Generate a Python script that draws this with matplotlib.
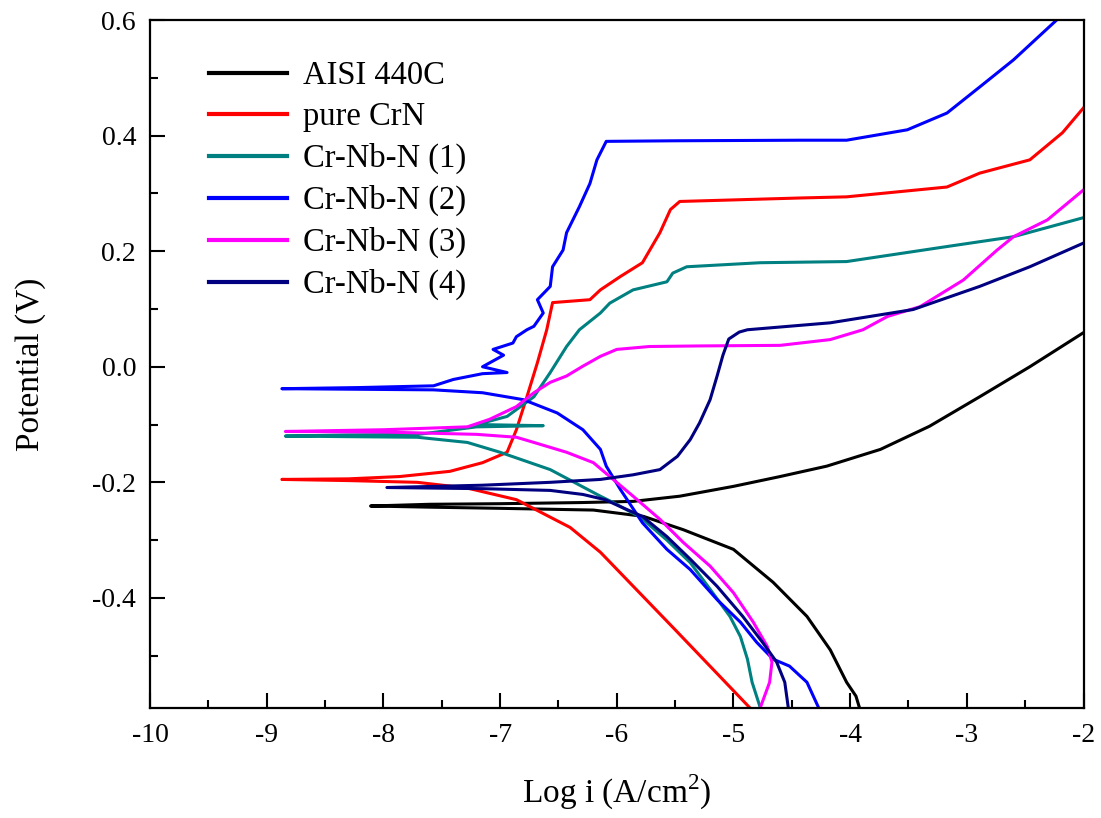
import matplotlib
matplotlib.use("Agg")
import matplotlib.pyplot as plt
from matplotlib.ticker import MultipleLocator

plt.rcParams['font.family'] = ['Liberation Serif', 'DejaVu Serif']
plt.rcParams['axes.unicode_minus'] = False
plt.rcParams['mathtext.fontset'] = 'custom'
plt.rcParams['mathtext.rm'] = 'Liberation Serif'

labels = ["AISI 440C", "pure CrN", "Cr-Nb-N (1)", "Cr-Nb-N (2)", "Cr-Nb-N (3)", "Cr-Nb-N (4)"]
colors = ["#000000", "#FF0000", "#008080", "#0000FF", "#FF00FF", "#000080"]

# AISI 440C
x_aisi = [-3.92, -3.95, -4.03, -4.17, -4.37, -4.66, -5.0, -5.43, -5.77, -6.2, -7.0, -7.6, -8.11,
          -7.6, -7.0, -6.3, -5.86, -5.46, -5.0, -4.6, -4.2, -3.74, -3.32, -2.89, -2.46, -2.0]
y_aisi = [-0.59, -0.57, -0.546, -0.49, -0.432, -0.373, -0.316, -0.282, -0.259, -0.248, -0.245, -0.243, -0.241,
          -0.238, -0.237, -0.235, -0.233, -0.224, -0.207, -0.19, -0.172, -0.143, -0.103, -0.052, 0.0, 0.059]

# pure CrN
x_crn = [-4.86, -5.5, -6.14, -6.4, -6.86, -7.28, -7.71, -8.3, -8.87,
         -8.3, -7.86, -7.43, -7.15, -6.94, -6.86, -6.77, -6.68, -6.6, -6.55, -6.23, -6.14,
         -5.97, -5.78, -5.63, -5.54, -5.46, -4.43, -4.03, -3.17, -2.89, -2.46, -2.18, -2.0]
y_crn = [-0.59, -0.455, -0.321, -0.278, -0.23, -0.21, -0.2, -0.197, -0.195,
         -0.194, -0.19, -0.181, -0.166, -0.148, -0.109, -0.052, 0.007, 0.064, 0.111, 0.116, 0.133,
         0.156, 0.18, 0.232, 0.272, 0.286, 0.292, 0.294, 0.311, 0.335, 0.358, 0.405, 0.448]

# Cr-Nb-N (1)
x_cn1 = [-4.77, -4.84, -4.88, -4.94, -5.03, -5.2, -5.37, -5.57, -5.8, -6.03, -6.14, -6.57, -7.0, -7.28, -7.71, -8.3, -8.84,
         -8.3, -7.7, -7.2, -6.63, -7.2, -6.94, -6.71, -6.57, -6.43, -6.32, -6.14, -6.06, -5.86, -5.57, -5.52, -5.4,
         -4.77, -4.03, -3.17, -2.6, -2.0]
y_cn1 = [-0.59, -0.546, -0.506, -0.467, -0.432, -0.385, -0.339, -0.3, -0.26, -0.235, -0.224, -0.178, -0.148, -0.131, -0.122, -0.121, -0.12,
         -0.118, -0.117, -0.104, -0.102, -0.1, -0.086, -0.052, -0.01, 0.035, 0.064, 0.093, 0.11, 0.133, 0.147, 0.162, 0.173,
         0.18, 0.182, 0.208, 0.225, 0.258]

# Cr-Nb-N (2)
x_cn2 = [-4.27, -4.37, -4.52, -4.66, -4.8, -4.94, -5.14, -5.37, -5.57, -5.78, -5.97, -6.09, -6.14, -6.29, -6.51, -6.8,
         -7.15, -7.57, -8.2, -8.87,
         -8.2, -7.57, -7.4, -7.15, -6.94, -7.15, -6.97, -7.06, -6.89, -6.86, -6.77, -6.71, -6.63, -6.68, -6.57, -6.55,
         -6.46, -6.43, -6.32, -6.23, -6.17, -6.09, -5.5, -4.43, -4.03, -3.51, -3.17, -2.89, -2.6, -2.23, -2.0]
y_cn2 = [-0.59, -0.546, -0.518, -0.506, -0.477, -0.442, -0.403, -0.351, -0.316, -0.27, -0.212, -0.172, -0.143, -0.109, -0.08, -0.057,
         -0.045, -0.04, -0.039, -0.038,
         -0.036, -0.033, -0.022, -0.012, -0.01, 0.0, 0.02, 0.03, 0.041, 0.052, 0.064, 0.07, 0.093, 0.116, 0.139, 0.173,
         0.202, 0.232, 0.277, 0.317, 0.358, 0.39, 0.391, 0.392, 0.392, 0.41, 0.439, 0.484, 0.531, 0.6, 0.64]

# Cr-Nb-N (3)
x_cn3 = [-4.77, -4.69, -4.67, -4.71, -4.83, -5.0, -5.2, -5.43, -5.63, -5.86, -6.06, -6.2, -6.43, -6.71, -6.86, -7.2, -8.0, -8.84,
         -8.0, -7.28, -7.09, -6.86, -6.71, -6.57, -6.43, -6.29, -6.14, -6.0, -5.72, -5.29, -4.6, -4.17, -3.89, -3.68,
         -3.4, -3.03, -2.74, -2.6, -2.31, -2.0]
y_cn3 = [-0.59, -0.546, -0.511, -0.484, -0.442, -0.391, -0.345, -0.304, -0.264, -0.224, -0.19, -0.166, -0.148, -0.131, -0.122, -0.117, -0.113, -0.112,
         -0.109, -0.104, -0.091, -0.069, -0.045, -0.027, -0.016, 0.001, 0.018, 0.03, 0.035, 0.036, 0.037, 0.047, 0.064, 0.087,
         0.104, 0.15, 0.202, 0.225, 0.254, 0.306]

# Cr-Nb-N (4)
x_cn4 = [-4.53, -4.56, -4.63, -4.75, -4.92, -5.14, -5.37, -5.57, -5.78, -5.97, -6.1, -6.29, -6.57, -7.15, -7.97,
         -7.15, -6.57, -6.14, -5.86, -5.63, -5.48, -5.37, -5.29, -5.2, -5.14, -5.09, -5.04, -4.95, -4.88, -4.17,
         -3.46, -2.89, -2.46, -2.0]
y_cn4 = [-0.59, -0.546, -0.511, -0.477, -0.432, -0.38, -0.333, -0.294, -0.259, -0.242, -0.23, -0.221, -0.214, -0.211, -0.209,
         -0.205, -0.2, -0.195, -0.187, -0.178, -0.155, -0.126, -0.097, -0.057, -0.016, 0.02, 0.048, 0.06, 0.064, 0.076,
         0.099, 0.139, 0.173, 0.214]

series_x = [x_aisi, x_crn, x_cn1, x_cn2, x_cn3, x_cn4]
series_y = [y_aisi, y_crn, y_cn1, y_cn2, y_cn3, y_cn4]

fig = plt.figure(figsize=(11.01, 8.18), dpi=100)
ax = fig.add_axes([150/1101, 1 - 707.7/818, 933.5/1101, 687.7/818])

for xs, ys, c, lab in zip(series_x, series_y, colors, labels):
    ax.plot(xs, ys, color=c, lw=2.2, label=lab, solid_joinstyle='round')

ax.set_xlim(-10, -2)
ax.set_ylim(-0.59, 0.6)
ax.xaxis.set_minor_locator(MultipleLocator(0.5))
ax.yaxis.set_minor_locator(MultipleLocator(0.1))
ax.set_yticks([-0.4, -0.2, 0.0, 0.2, 0.4, 0.6])
ax.set_yticklabels(["-0.4", "-0.2", "0.0", "0.2", "0.4", "0.6"])
ax.set_xticks(list(range(-10, -1)))
ax.set_xticklabels([str(v) for v in range(-10, -1)])

ax.tick_params(which='both', direction='in', top=False, right=False, width=1.5, labelsize=20)
ax.tick_params(which='major', length=11)
ax.tick_params(which='minor', length=6)
ax.tick_params(axis='y', pad=10)
ax.tick_params(axis='x', pad=11)
for s in ax.spines.values():
    s.set_linewidth(1.6)

ax.set_xlabel("Log i (A/cm$^2$)", fontsize=24, labelpad=18)
ax.set_ylabel("Potential (V)", fontsize=24, labelpad=33)

leg = ax.legend(loc='upper left', bbox_to_anchor=(0.063, 0.941), frameon=False, fontsize=23.5,
                handlelength=2.4, handletextpad=0.5, labelspacing=0.33, borderpad=0, borderaxespad=0)
for h in leg.get_lines():
    h.set_linewidth(3)

fig.savefig("out.png", dpi=100)
